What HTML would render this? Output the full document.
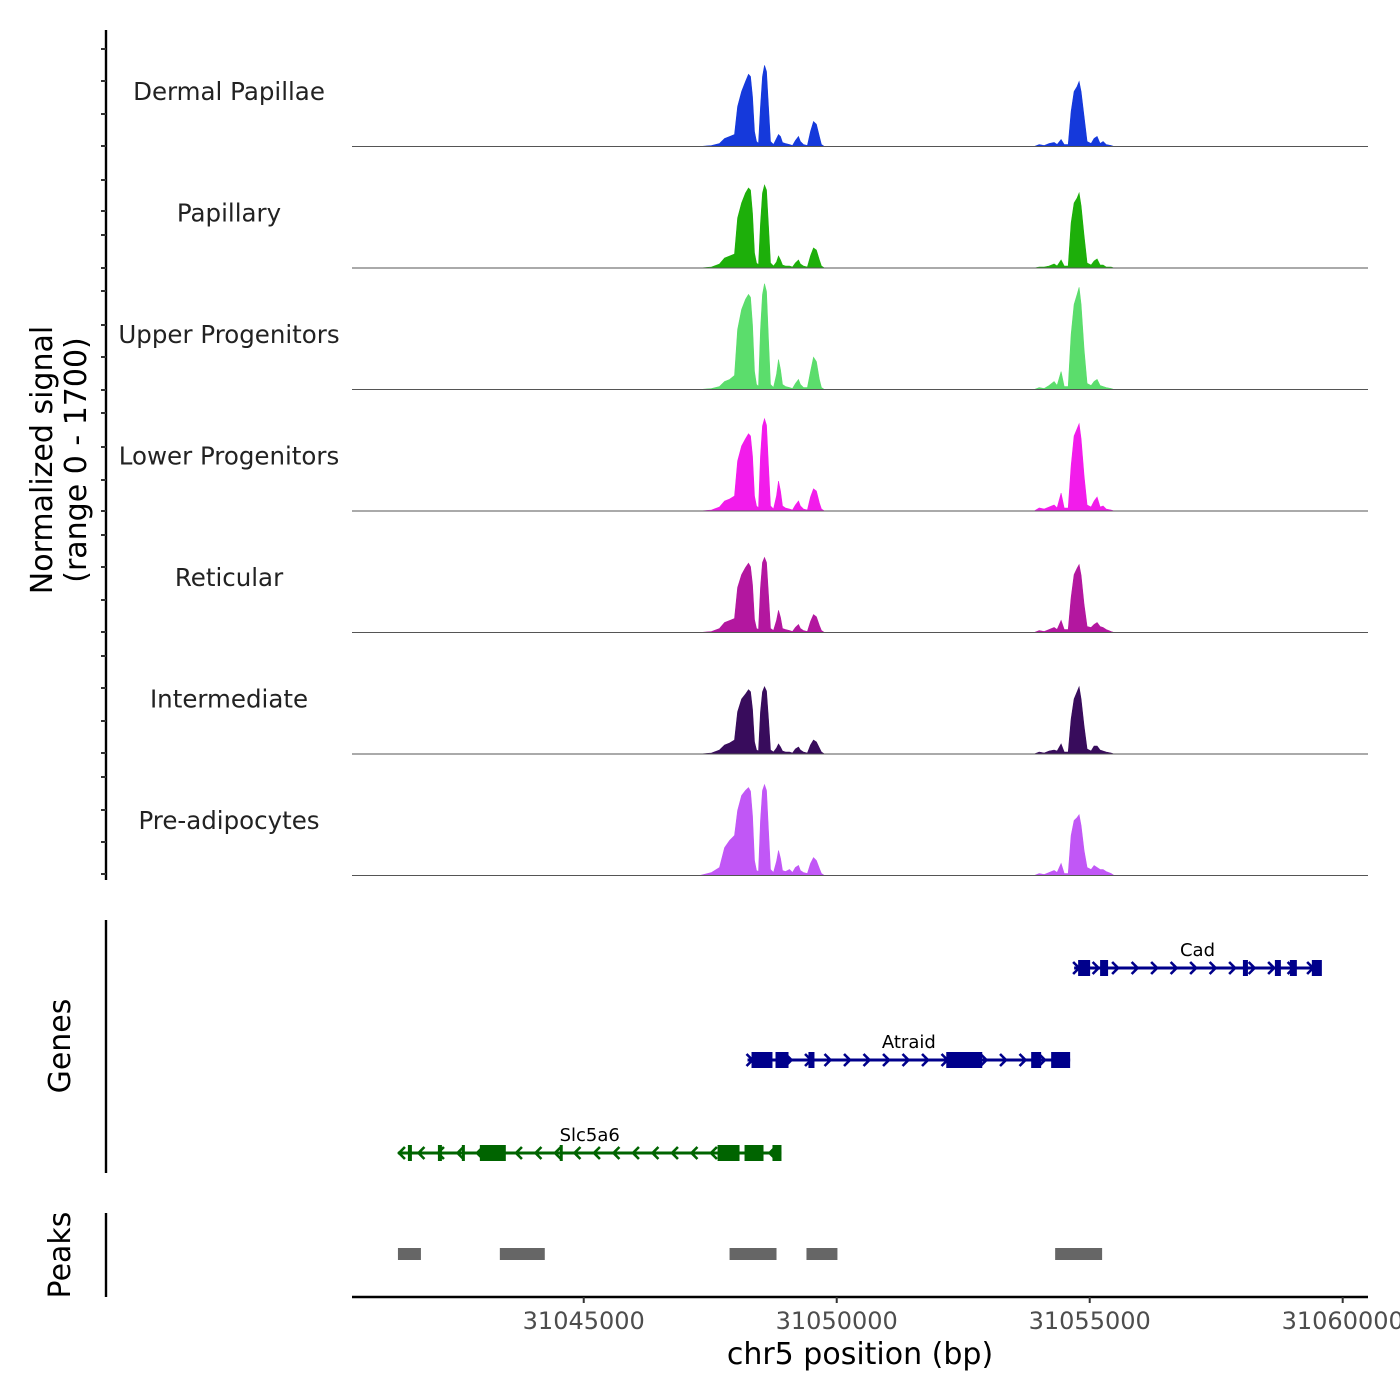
<!DOCTYPE html>
<html><head><meta charset="utf-8"><style>
html,body{margin:0;padding:0;background:#fff;}
svg{display:block;font-family:"DejaVu Sans","Liberation Sans",sans-serif;}
</style></head><body>
<svg id="chart" width="1400" height="1400" viewBox="0 0 1400 1400" xmlns="http://www.w3.org/2000/svg">
<rect width="1400" height="1400" fill="#fff"/>
<g id="tracks"></g>
<g id="genes"></g>
<g id="peaks"></g>
<g id="axes"></g>
<text transform="translate(52,460) rotate(-90)" text-anchor="middle" font-size="30" fill="#000">Normalized signal</text>
<text transform="translate(86,460) rotate(-90)" text-anchor="middle" font-size="30" fill="#000">(range 0 - 1700)</text>
<text transform="translate(70,1046) rotate(-90)" text-anchor="middle" font-size="30" fill="#000">Genes</text>
<text transform="translate(70,1255) rotate(-90)" text-anchor="middle" font-size="30" fill="#000">Peaks</text>
<text x="860" y="1364" text-anchor="middle" font-size="30" fill="#000">chr5 position (bp)</text>
</svg>
<script>
// ---- data ----
const positions = [31040420,
31047290,31047526,31047684,31047783,31047882,31047980,31048040,31048119,31048198,31048257,31048296,31048336,31048375,31048415,31048454,31048494,31048533,31048573,31048612,31048652,31048691,31048750,31048809,31048849,31048888,31048928,31048987,31049066,31049125,31049184,31049244,31049283,31049342,31049421,31049481,31049540,31049599,31049658,31049698,31049757,
31053902,31054001,31054100,31054198,31054297,31054356,31054435,31054495,31054574,31054633,31054692,31054751,31054791,31054830,31054889,31054949,31055028,31055087,31055146,31055205,31055265,31055324,31055422,31055482,
31060500];
const trackNames = ["Dermal Papillae","Papillary","Upper Progenitors","Lower Progenitors","Reticular","Intermediate","Pre-adipocytes"];
const trackColors = ["#1539DB","#1DAF0A","#5BDD6C","#F21CEB","#B3179F","#380C5C","#C157F6"];
const dermalValues = [0,0,14,42,112,140,168,560,770,910,1010,980,700,210,70,42,560,980,1135,1050,560,70,28,112,168,140,56,42,28,14,84,140,70,28,14,210,350,310,140,28,0,
0,28,14,42,56,28,98,28,28,490,770,840,910,770,420,70,42,112,140,42,70,28,14,0,0];
const papillaryValues = [0,0,14,56,140,168,196,700,910,1050,1120,1090,770,210,70,42,630,1050,1160,1090,590,70,28,84,168,112,42,28,28,14,70,112,56,28,14,170,280,250,112,28,0,
0,14,14,28,56,28,112,28,28,630,910,980,1050,870,450,70,42,98,126,42,42,14,14,0,0];
const upperValues = [0,0,14,42,112,140,196,840,1120,1260,1330,1290,910,250,70,42,840,1330,1480,1370,700,70,28,210,420,280,70,42,28,14,84,140,70,28,28,250,450,390,140,28,0,
0,28,14,56,112,56,250,42,42,770,1190,1330,1430,1190,560,84,56,112,140,56,42,28,14,0,0];
const lowerValues = [0,0,14,56,140,168,210,700,910,1010,1080,1050,770,210,70,42,770,1190,1290,1200,630,70,28,210,420,280,70,42,28,14,84,140,70,28,14,196,310,280,112,28,0,
0,42,28,56,84,42,250,42,42,630,1050,1150,1220,1010,490,84,56,140,196,56,70,28,14,0,0];
const reticularValues = [0,0,14,56,140,168,196,630,810,910,970,920,670,180,56,42,630,980,1050,980,530,56,28,168,310,210,56,42,28,14,70,112,56,28,14,154,250,220,98,28,0,
0,28,14,42,70,42,168,42,42,490,810,900,950,800,390,84,70,112,140,84,70,42,14,0,0];
const intermediateValues = [0,0,14,56,126,154,196,590,770,840,900,870,630,168,56,42,590,870,940,880,490,56,28,84,140,98,42,28,28,14,70,98,56,28,14,126,196,168,84,28,0,
0,28,14,42,56,42,140,28,28,490,770,870,940,770,390,70,42,112,112,56,42,28,14,0,0];
const preadipValues = [0,0,42,112,390,490,560,910,1120,1190,1230,1180,840,210,70,56,770,1190,1270,1190,630,84,42,196,350,240,70,56,84,42,112,140,70,42,28,168,250,210,98,28,0,
0,28,14,42,70,42,168,28,28,560,770,810,850,700,350,112,84,140,112,84,84,56,28,0,0];
const trackValues = [dermalValues,papillaryValues,upperValues,lowerValues,reticularValues,intermediateValues,preadipValues];
const yMax = 1700;
const xTicks = [31045000,31050000,31055000,31060000];
const geneNames = ["Cad","Atraid","Slc5a6"];
const geneStarts = [31054692,31048237,31041328];
const geneEnds = [31059568,31054613,31048908];
const geneStrands = ["+","+","-"];
const geneExonStarts = [[31054771,31055205,31058028,31058660,31058956,31059390],[31048316,31048790,31049441,31052165,31053843,31054238],[31041525,31042118,31042591,31042947,31044526,31047645,31048178,31048730]];
const geneExonEnds = [[31055008,31055363,31058127,31058778,31059094,31059588],[31048730,31049047,31049560,31052876,31054040,31054613],[31041604,31042197,31042651,31043460,31044585,31048079,31048553,31048908]];
const peakStarts = [31041328,31043342,31047882,31049402,31054317];
const peakEnds = [31041782,31044230,31048810,31050014,31055245];

// ---- layout ----
const NS="http://www.w3.org/2000/svg";
const X0=352,X1=1368,BP0=31040420,BP1=31060500;
const xs=bp=>X0+(bp-BP0)/(BP1-BP0)*(X1-X0);
const trackTop=25,trackH=121.5;
function mk(tag,attrs,parent){const e=document.createElementNS(NS,tag);for(const k in attrs)e.setAttribute(k,attrs[k]);parent.appendChild(e);return e;}
const gT=document.getElementById('tracks');
trackValues.forEach((vals,i)=>{
  const base=trackTop+(i+1)*trackH;
  const ys=v=>base-v/yMax*trackH;
  let d=`M${xs(positions[0])},${base}`;
  positions.forEach((p,j)=>{d+=` L${xs(p).toFixed(1)},${ys(vals[j]).toFixed(1)}`;});
  d+=` L${xs(positions[positions.length-1])},${base} Z`;
  const area=mk('path',{d:d,fill:trackColors[i],stroke:trackColors[i],'stroke-width':0.6},gT);
  
  
  const bl=mk('line',{x1:X0,x2:X1,y1:base,y2:base,stroke:'#555','stroke-width':1},gT);
  
  
  const lab=mk('text',{x:229,y:base-trackH+75,'text-anchor':'middle','font-size':24.5,fill:'#222'},gT);
  lab.textContent=trackNames[i];
  
  
});
// genes
const gG=document.getElementById('genes');
const geneY=[968,1060,1153];
geneNames.forEach((n,i)=>{
  const col=geneStrands[i]==='+'?'#00008B':'#006400';
  const y=geneY[i];
  const g=mk('g',{},gG);
  
  
  const a=xs(geneStarts[i]),b=xs(geneEnds[i]);
  mk('line',{x1:a,x2:b,y1:y,y2:y,stroke:col,'stroke-width':3},g);
  const step=19.5;
  for(let x=a+3;x<=b-1;x+=step){
    const dir=geneStrands[i]==='+'?1:-1;
    mk('polyline',{points:`${x-4*dir},${y-6} ${x+2*dir},${y} ${x-4*dir},${y+6}`,fill:'none',stroke:col,'stroke-width':2.6},g);
  }
  geneExonStarts[i].forEach((s,j)=>{
    const xa=xs(s),xb=xs(geneExonEnds[i][j]);
    mk('rect',{x:xa,y:y-8,width:Math.max(xb-xa,3),height:16,fill:col},g);
  });
  const t=mk('text',{x:(a+b)/2,y:y-12,'text-anchor':'middle','font-size':18,fill:'#000'},g);
  t.textContent=n;
  
  
});
// peaks
const gP=document.getElementById('peaks');
peakStarts.forEach((s,i)=>{
  const r=mk('rect',{x:xs(s),y:1248,width:xs(peakEnds[i])-xs(s),height:12,fill:'#666'},gP);
  
  
});
// axes
const gA=document.getElementById('axes');
mk('line',{x1:106,x2:106,y1:30,y2:880,stroke:'#000','stroke-width':2.4},gA);
[49,81,114,146,180,211,235,268,291,325,357,390,413,447,480,511,535,567,600,632,656,688,721,753,777,810,842,874].forEach(y=>{
  mk('line',{x1:101,x2:106,y1:y,y2:y,stroke:'#333','stroke-width':2},gA);
});
mk('line',{x1:106,x2:106,y1:920,y2:1173,stroke:'#000','stroke-width':2.4},gA);
mk('line',{x1:106,x2:106,y1:1213,y2:1297,stroke:'#000','stroke-width':2.4},gA);
mk('line',{x1:X0,x2:X1,y1:1297,y2:1297,stroke:'#000','stroke-width':2.4},gA);
xTicks.forEach(t=>{
  const x=xs(t);
  mk('line',{x1:x,x2:x,y1:1297,y2:1303,stroke:'#333','stroke-width':2},gA);
  const tx=mk('text',{x:x,y:1329,'text-anchor':'middle','font-size':24,fill:'#4d4d4d'},gA);
  tx.textContent=t;
  
  
});
</script>
</body></html>
